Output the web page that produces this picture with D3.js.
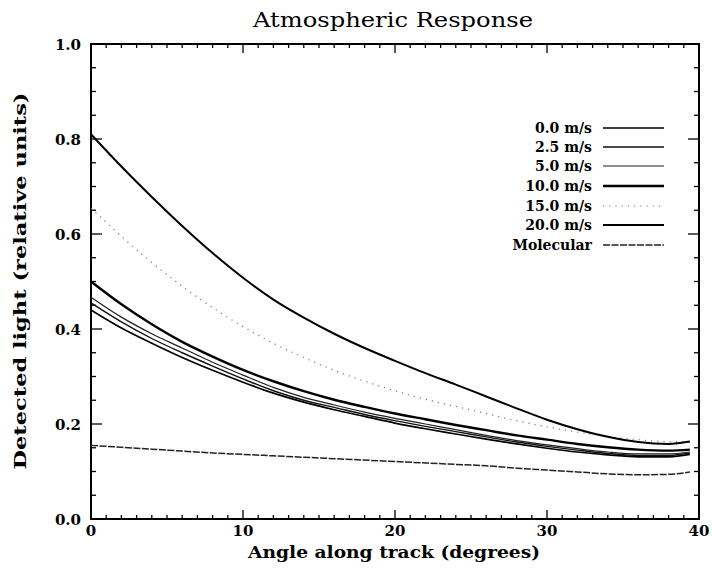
<!DOCTYPE html>
<html><head><meta charset="utf-8">
<script src="https://cdn.jsdelivr.net/npm/d3@7"></script>
<style>body{margin:0;background:#fff}svg{display:block}</style>
</head><body>
<script>
const angles = [0, 2, 4, 6, 8, 10, 12, 14, 16, 18, 20, 22, 24, 26, 28, 30, 32, 34, 36, 38, 39.4];
const s00 = [0.44, 0.402, 0.37, 0.34, 0.313, 0.288, 0.265, 0.246, 0.23, 0.216, 0.202, 0.19, 0.179, 0.168, 0.158, 0.149, 0.141, 0.135, 0.131, 0.131, 0.136];
const s25 = [0.455, 0.415, 0.38, 0.35, 0.322, 0.295, 0.27, 0.25, 0.235, 0.22, 0.207, 0.195, 0.184, 0.173, 0.162, 0.153, 0.145, 0.138, 0.134, 0.134, 0.139];
const s50 = [0.467, 0.425, 0.39, 0.36, 0.33, 0.303, 0.277, 0.256, 0.24, 0.225, 0.212, 0.2, 0.188, 0.176, 0.165, 0.156, 0.148, 0.141, 0.137, 0.137, 0.141];
const s100 = [0.50, 0.452, 0.41, 0.373, 0.342, 0.314, 0.29, 0.269, 0.251, 0.236, 0.222, 0.21, 0.198, 0.187, 0.176, 0.167, 0.158, 0.151, 0.146, 0.144, 0.146];
const s150 = [0.655, 0.595, 0.54, 0.49, 0.445, 0.405, 0.37, 0.34, 0.313, 0.29, 0.27, 0.252, 0.237, 0.222, 0.207, 0.194, 0.183, 0.174, 0.167, 0.163, 0.163];
const s200 = [0.81, 0.742, 0.678, 0.617, 0.56, 0.508, 0.462, 0.424, 0.39, 0.36, 0.333, 0.307, 0.283, 0.258, 0.233, 0.209, 0.189, 0.173, 0.162, 0.158, 0.163];
const molecular = [0.155, 0.151, 0.147, 0.143, 0.139, 0.136, 0.133, 0.13, 0.127, 0.124, 0.121, 0.118, 0.115, 0.112, 0.107, 0.103, 0.099, 0.095, 0.093, 0.094, 0.099];
const legendLabels = ["0.0 m/s", "2.5 m/s", "5.0 m/s", "10.0 m/s", "15.0 m/s", "20.0 m/s", "Molecular"];
const xTicks = [0, 10, 20, 30, 40];
const yTicks = [0.0, 0.2, 0.4, 0.6, 0.8, 1.0];

const W = 712, H = 577;
const L = 91, R = 699, T = 44, B = 519;
const svg = d3.select("body").append("svg").attr("width", W).attr("height", H);
const x = d3.scaleLinear().domain([0, 40]).range([L, R]);
const y = d3.scaleLinear().domain([0, 1]).range([B, T]);
const font = "'DejaVu Serif', serif";

const styles = [
  {w: 1.7, dash: null, c: "#000"},
  {w: 1.4, dash: null, c: "#111"},
  {w: 1.2, dash: null, c: "#222"},
  {w: 2.4, dash: null, c: "#000"},
  {w: 1.2, dash: "1.2,5", c: "#777"},
  {w: 2.0, dash: null, c: "#000"},
  {w: 1.5, dash: "7,1.5", c: "#222"}
];
const seriesList = [s00, s25, s50, s100, s150, s200, molecular];

// frame
svg.append("rect").attr("x", L).attr("y", T).attr("width", R - L).attr("height", B - T)
  .attr("fill", "none").attr("stroke", "#000").attr("stroke-width", 2);

// ticks (inward) on all sides
const minorX = d3.range(1, 40).filter(v => v % 10 !== 0);
const majorX = [10, 20, 30];
const g = svg.append("g").attr("stroke", "#000").attr("stroke-width", 1.3);
minorX.forEach(v => {
  g.append("line").attr("x1", x(v)).attr("x2", x(v)).attr("y1", B).attr("y2", B - 4);
  g.append("line").attr("x1", x(v)).attr("x2", x(v)).attr("y1", T).attr("y2", T + 4);
});
majorX.forEach(v => {
  g.append("line").attr("x1", x(v)).attr("x2", x(v)).attr("y1", B).attr("y2", B - 9);
  g.append("line").attr("x1", x(v)).attr("x2", x(v)).attr("y1", T).attr("y2", T + 9);
});
const minorY = d3.range(1, 20).map(i => i * 0.05).filter(v => Math.abs(v / 0.2 - Math.round(v / 0.2)) > 1e-6);
minorY.forEach(v => {
  g.append("line").attr("x1", L).attr("x2", L + 5).attr("y1", y(v)).attr("y2", y(v));
  g.append("line").attr("x1", R).attr("x2", R - 5).attr("y1", y(v)).attr("y2", y(v));
});
[0.2, 0.4, 0.6, 0.8].forEach(v => {
  g.append("line").attr("x1", L).attr("x2", L + 11).attr("y1", y(v)).attr("y2", y(v));
  g.append("line").attr("x1", R).attr("x2", R - 11).attr("y1", y(v)).attr("y2", y(v));
});

// tick labels
svg.append("g").selectAll("text").data(xTicks).join("text")
  .attr("x", d => x(d)).attr("y", 536).attr("text-anchor", "middle")
  .attr("font-family", font).attr("font-weight", "bold").attr("font-size", 15)
  .text(d => d);
svg.append("g").selectAll("text").data(yTicks).join("text")
  .attr("x", 81).attr("y", d => y(d) + 6).attr("text-anchor", "end")
  .attr("font-family", font).attr("font-weight", "bold").attr("font-size", 15)
  .text(d => d.toFixed(1));

// title and axis labels
svg.append("text").attr("x", 393).attr("y", 27).attr("text-anchor", "middle")
  .attr("font-family", font).attr("font-size", 20)
  .attr("textLength", 280).attr("lengthAdjust", "spacingAndGlyphs")
  .text("Atmospheric Response");
svg.append("text").attr("x", 394).attr("y", 558).attr("text-anchor", "middle")
  .attr("font-family", font).attr("font-weight", "bold").attr("font-size", 16)
  .attr("textLength", 292).attr("lengthAdjust", "spacingAndGlyphs")
  .text("Angle along track (degrees)");
svg.append("text").attr("transform", "translate(26,281) rotate(-90)").attr("text-anchor", "middle")
  .attr("font-family", font).attr("font-weight", "bold").attr("font-size", 16)
  .attr("textLength", 377).attr("lengthAdjust", "spacingAndGlyphs")
  .text("Detected light (relative units)");

// curves
const line = d3.line().x(d => x(d[0])).y(d => y(d[1])).curve(d3.curveMonotoneX);
seriesList.forEach((s, i) => {
  const st = styles[i];
  svg.append("path").datum(angles.map((a, j) => [a, s[j]]))
    .attr("d", line).attr("fill", "none").attr("stroke", st.c)
    .attr("stroke-width", st.w).attr("stroke-dasharray", st.dash);
});

// legend
const legY = [128, 147, 166, 186, 206, 225, 245];
legendLabels.forEach((lab, i) => {
  const st = styles[i];
  svg.append("text").attr("x", 592).attr("y", legY[i] + 5).attr("text-anchor", "end")
    .attr("font-family", font).attr("font-weight", "bold").attr("font-size", 14)
    .text(lab);
  svg.append("line").attr("x1", 603).attr("x2", 664).attr("y1", legY[i]).attr("y2", legY[i])
    .attr("stroke", st.c).attr("stroke-width", st.w).attr("stroke-dasharray", st.dash);
});
</script>
</body></html>
